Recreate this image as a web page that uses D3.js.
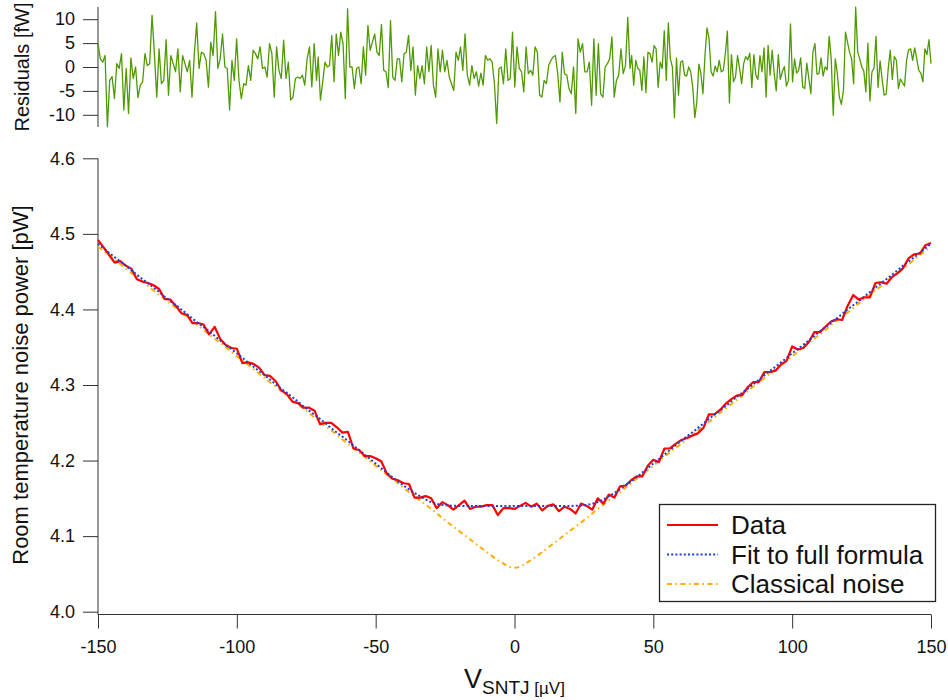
<!DOCTYPE html>
<html>
<head>
<meta charset="utf-8">
<script src="https://cdn.jsdelivr.net/npm/d3@7"></script>
<style>
  body { margin: 0; background: #fff; }
  text { font-family: "Liberation Sans", Arial, sans-serif; fill: #111; }
</style>
</head>
<body>
<svg id="chart"></svg>
<script>
// ---- data ----
// bias voltage grid of the measured data, µV, every 2 µV
const dataV = d3.range(-150, 151, 2);
// measured noise power, pW
const dataP = [
  4.492, 4.482, 4.472, 4.462, 4.464, 4.458, 4.454, 4.440, 4.437, 4.435,
  4.432, 4.427, 4.414, 4.413, 4.405, 4.395, 4.393, 4.382, 4.382, 4.380,
  4.367, 4.377, 4.361, 4.353, 4.349, 4.348, 4.329, 4.330, 4.328, 4.323,
  4.313, 4.312, 4.305, 4.293, 4.288, 4.278, 4.276, 4.270, 4.270, 4.266,
  4.248, 4.250, 4.250, 4.244, 4.237, 4.238, 4.216, 4.214, 4.206, 4.206,
  4.203, 4.199, 4.183, 4.176, 4.174, 4.170, 4.169, 4.151, 4.151, 4.153,
  4.150, 4.137, 4.145, 4.141, 4.135, 4.141, 4.147, 4.136, 4.139, 4.139,
  4.141, 4.141, 4.128, 4.137, 4.137, 4.136, 4.140, 4.144, 4.139, 4.143,
  4.134, 4.140, 4.142, 4.133, 4.139, 4.136, 4.130, 4.143, 4.140, 4.135,
  4.150, 4.143, 4.155, 4.151, 4.166, 4.167,
  4.174, 4.179, 4.179, 4.193, 4.201, 4.198, 4.216, 4.216, 4.222, 4.227,
  4.230, 4.233, 4.236, 4.243, 4.261, 4.261, 4.267, 4.275, 4.281, 4.286,
  4.287, 4.297, 4.304, 4.304, 4.317, 4.317, 4.319, 4.327, 4.332, 4.351,
  4.347, 4.349, 4.357, 4.370, 4.370, 4.377, 4.384, 4.387, 4.386, 4.405,
  4.419, 4.413, 4.416, 4.416, 4.435, 4.436, 4.434, 4.443, 4.448, 4.455,
  4.468, 4.473, 4.474, 4.485, 4.488
];

// grid of the model curves, µV, every 5 µV
const modelV = d3.range(-150, 151, 5);
const fitP = [
  4.487, 4.472, 4.458, 4.443, 4.429, 4.414, 4.400, 4.385, 4.371, 4.356,
  4.342, 4.327, 4.313, 4.298, 4.284, 4.269, 4.255, 4.240, 4.226, 4.211,
  4.196, 4.181, 4.167, 4.155, 4.145, 4.141, 4.140, 4.140, 4.140, 4.140,
  4.140, 4.140, 4.140, 4.140, 4.140, 4.141, 4.145, 4.155, 4.167, 4.181,
  4.196, 4.211, 4.226, 4.240, 4.255, 4.269, 4.284, 4.298, 4.313, 4.327,
  4.342, 4.356, 4.371, 4.385, 4.400, 4.414, 4.429, 4.443, 4.458, 4.472,
  4.487
];
const classicalP = [
  4.483, 4.469, 4.454, 4.440, 4.425, 4.411, 4.396, 4.382, 4.367, 4.353,
  4.338, 4.324, 4.309, 4.295, 4.280, 4.266, 4.251, 4.237, 4.222, 4.208,
  4.193, 4.179, 4.164, 4.150, 4.136, 4.121, 4.107, 4.093, 4.079, 4.066,
  4.058, 4.066, 4.079, 4.093, 4.107, 4.121, 4.136, 4.150, 4.164, 4.179,
  4.193, 4.208, 4.222, 4.237, 4.251, 4.266, 4.280, 4.295, 4.309, 4.324,
  4.338, 4.353, 4.367, 4.382, 4.396, 4.411, 4.425, 4.440, 4.454, 4.469,
  4.483
];

// residuals, fW, in three stretches (start and end voltage in µV)
const resA = [
  4.9, 1.7, 1.0, 2.4, -12.5, -2.8, -2.0, -6.6, 0.7, -0.3,
  2.8, -9.0, -0.3, -9.7, 1.9, -2.4, 0.0, -6.4, -3.8, -3.1,
  2.8, 0.3, 0.7, 10.8, 2.8, -6.3, 3.8, -3.5, -2.8, 5.7,
  -5.9, 2.4, 0.7, -1.0, 3.8, -5.2, 2.4, 0.7, -1.0, 1.4,
  -6.3, 2.8, 9.2, -0.3, 3.1, 2.8, 1.4, -4.2, 5.2, 2.4,
  11.6, -0.3, 1.7, 6.9, 0.0, -0.3, -9.0, 1.4, -2.8, 5.9,
  -2.8, -6.6, -3.5, -3.8, 0.3, -2.8, 3.5, 2.8, 1.7, 4.2,
  -0.3, 0.0, -2.1, 4.9, 2.8, -6.3, 4.2, -0.7, -2.4, 5.6,
  -2.4, 1.0, -6.9, -6.3, -2.4, -2.1, -2.4, -1.7, -3.8, 1.7,
  4.2, -4.2, 4.9, -2.8
];
const resB = [
  2.1, -6.9, -3.1, 1.0, 0.0, 0.3, 6.6, -3.1, 6.9, 2.4,
  7.3, 4.9, -6.6, 12.2, 0.0, 0.0, -4.5, -0.3, 0.0, -3.5,
  4.2, -1.7, 8.7, 3.5, 5.2, 6.9, 3.1, 2.4, 8.9, -0.7,
  -1.0, -4.3, 9.7, -2.1, -2.8, 1.7, 1.7, -3.1, 2.8, 3.1,
  6.6, -0.7, 4.2, -5.9, 0.3, -2.4, 0.3, -3.5, 4.2, -1.0,
  4.5, -3.8, -6.3, 3.8, -1.0, 3.5, -1.0, 1.4, -2.1, -3.5,
  -4.9, 3.1, 1.4, 4.2, -0.7, 6.9, -1.7, -3.8, 0.3, -2.4,
  -1.0, -4.0, -1.3, -3.8, 2.4, 1.4, 1.7, 1.0, -3.5, -11.8,
  -0.3, 0.0, -3.5, 3.8, -2.8, -2.4, 7.3, -4.2, 4.2, -0.3,
  -1.0, -5.2, 4.2, -1.4, -0.7, -1.7, 4.2, 3.1, -5.9, -6.3,
  -2.8, -3.5, 0.3, 1.4, 2.1, 2.4, -1.4, -7.3, 3.1, -1.4,
  -1.7, -4.5, -5.6, 0.0, -9.7, 5.9, 3.1, 4.9, -1.0, -1.0,
  1.0, -8.0, 5.9, -5.9, 4.9, -5.6, -6.3, 0.0, 0.7, 1.7,
  6.3, -6.3, -2.8, -1.7, 3.8, -1.4, 0.3, 10.4, -0.3
];
const resC = [
  2.4, -3.8, 1.4, -0.3, -0.7, -4.9, 2.1, -5.4, 3.1, 2.8,
  1.0, 4.5, 3.8, -4.3, 1.0, -0.3, 7.6, -2.8, 9.2, 1.7,
  0.0, -10.6, 1.9, -5.9, 1.0, 1.3, -1.7, -1.9, 0.0, -1.0,
  -4.2, -10.6, -7.3, 0.6, -1.4, -5.6, 2.4, 8.2, 5.9, -1.0,
  -1.9, 0.2, -1.0, 1.4, -1.0, -0.7, 2.8, 7.5, -7.5, 2.6,
  -3.1, -2.1, 2.4, -0.3, -3.5, 0.7, 2.2, 1.5, 2.9, -4.3,
  2.6, -1.7, -2.6, 2.4, -1.0, 4.0, -6.3, 4.5, -1.7, 3.5,
  -1.4, -5.0, 2.6, -2.6, -1.0, 0.1, -4.0, -2.8, 9.0, -3.1,
  1.7, -1.3, -0.7, 1.9, -4.2, -4.5, 0.8, -2.4, -5.6, 3.1,
  4.9, -1.5, -1.4, 1.9, -1.9, 0.0, -0.6, 6.4, 1.7, -10.1,
  1.7, -1.4, -6.3, -7.8, -4.9, 7.3, 5.2, 3.1, 1.7, -3.5,
  12.5, 3.1, 1.7, 0.0, -0.8, -5.2, 5.0, -7.1, -1.0, -0.3,
  6.4, -4.3, 1.3, -2.6, -5.9, -5.7, -0.3, 3.5, -2.6, 2.2,
  1.4, -4.5, -2.5, -3.3, -4.0, 1.4, 3.6, 3.8, 1.4, 4.0,
  1.7, -0.7, -1.3, -3.1, 3.8, 2.6, 5.7, 0.7
];
const resSpans = [[-150, -71.3], [-70.7, 41.6], [42.2, 150]];

const xTicks = [-150, -100, -50, 0, 50, 100, 150];
const yTicks = [4.0, 4.1, 4.2, 4.3, 4.4, 4.5, 4.6];
const resTicks = [-10, -5, 0, 5, 10];

const legendItems = ["Data", "Fit to full formula", "Classical noise"];

// ---- drawing ----
const W = 948, H = 700;
const svg = d3.select("#chart").attr("width", W).attr("height", H);

const x = d3.scaleLinear().domain([-150, 150]).range([98, 931]);
const y = d3.scaleLinear().domain([4.0, 4.6]).range([611.7, 158.3]);
const yr = d3.scaleLinear().domain([-10, 10]).range([114.8, 19.2]);

const axisColor = "#333";
// plain hyphen for negatives, like the original
const plain = d => String(d);

// residual panel
const gRes = svg.append("g");
gRes.append("g")
    .attr("transform", "translate(98,0)")
    .call(d3.axisLeft(yr).tickValues(resTicks).tickFormat(plain).tickSize(15).tickPadding(8).tickSizeOuter(0))
    .call(g => g.select(".domain").remove())
    .call(g => g.selectAll("line").attr("stroke", axisColor))
    .call(g => g.selectAll("text").style("font-size", "18px").attr("fill", "#111"));
gRes.append("line")
    .attr("x1", 98).attr("x2", 98).attr("y1", 7).attr("y2", 127)
    .attr("stroke", axisColor);

const resPoints = [resA, resB, resC].flatMap((vals, k) => {
  const [v0, v1] = resSpans[k];
  return vals.map((r, i) => [v0 + (v1 - v0) * i / (vals.length - 1), r]);
});
gRes.append("path")
    .datum(resPoints)
    .attr("fill", "none")
    .attr("stroke", "#4f9a00")
    .attr("stroke-width", 1.3)
    .attr("stroke-linejoin", "round")
    .attr("d", d3.line().x(d => x(d[0])).y(d => yr(d[1])));

svg.append("text")
    .attr("transform", "translate(29,67) rotate(-90)")
    .attr("text-anchor", "middle")
    .style("font-size", "20px")
    .text("Residuals [fW]");

// main panel axes
svg.append("g")
    .attr("transform", "translate(98,0)")
    .call(d3.axisLeft(y).tickValues(yTicks).tickFormat(d3.format(".1f")).tickSize(15).tickPadding(8))
    .call(g => g.select(".domain").remove())
    .call(g => g.selectAll("line").attr("stroke", axisColor))
    .call(g => g.selectAll("text").style("font-size", "18px").attr("fill", "#111"));
svg.append("line")
    .attr("x1", 98).attr("x2", 98).attr("y1", 158.3).attr("y2", 614.5)
    .attr("stroke", axisColor);

svg.append("g")
    .attr("transform", "translate(0,614.5)")
    .call(d3.axisBottom(x).tickValues(xTicks).tickFormat(plain).tickSize(14).tickPadding(12))
    .call(g => g.select(".domain").remove())
    .call(g => g.selectAll("line").attr("stroke", axisColor))
    .call(g => g.selectAll("text").style("font-size", "18px").attr("fill", "#111"));
svg.append("line")
    .attr("x1", 98).attr("x2", 931).attr("y1", 614.5).attr("y2", 614.5)
    .attr("stroke", axisColor);

svg.append("text")
    .attr("transform", "translate(28,385) rotate(-90)")
    .attr("text-anchor", "middle")
    .style("font-size", "22px")
    .text("Room temperature noise power [pW]");

const xTitle = svg.append("text")
    .attr("x", 514.5).attr("y", 688)
    .attr("text-anchor", "middle");
xTitle.append("tspan").style("font-size", "27px").text("V");
xTitle.append("tspan").attr("dy", 6).style("font-size", "19px").text("SNTJ");
xTitle.append("tspan").style("font-size", "17px").text(" [µV]");

// curves
const styles = [
  { stroke: "#ff0000", width: 2.2, dash: null },
  { stroke: "#1f3fd9", width: 2, dash: "2,2.2" },
  { stroke: "#ffad00", width: 2, dash: "5,3.5,1.5,3.5" }
];

const lineData = d3.line().x((d, i) => x(dataV[i])).y(d => y(d));
const lineModel = d3.line().x((d, i) => x(modelV[i])).y(d => y(d)).curve(d3.curveMonotoneX);

svg.append("path").datum(classicalP)
    .attr("fill", "none").attr("stroke", styles[2].stroke)
    .attr("stroke-width", styles[2].width).attr("stroke-dasharray", styles[2].dash)
    .attr("d", lineModel);
svg.append("path").datum(dataP)
    .attr("fill", "none").attr("stroke", styles[0].stroke)
    .attr("stroke-width", styles[0].width).attr("stroke-linejoin", "round")
    .attr("d", lineData);
svg.append("path").datum(fitP)
    .attr("fill", "none").attr("stroke", styles[1].stroke)
    .attr("stroke-width", styles[1].width).attr("stroke-dasharray", styles[1].dash)
    .attr("d", lineModel);

// legend
const lg = svg.append("g");
lg.append("rect")
    .attr("x", 659.5).attr("y", 504.5).attr("width", 276).attr("height", 97)
    .attr("fill", "#fff").attr("stroke", "#222").attr("stroke-width", 1.3);
legendItems.forEach((name, i) => {
  const cy = 525 + i * 29.5;
  lg.append("line")
      .attr("x1", 667).attr("x2", 718).attr("y1", cy).attr("y2", cy)
      .attr("stroke", styles[i].stroke).attr("stroke-width", styles[i].width)
      .attr("stroke-dasharray", styles[i].dash);
  lg.append("text")
      .attr("x", 731).attr("y", cy).attr("dy", "0.35em")
      .style("font-size", "26px")
      .text(name);
});
</script>
</body>
</html>
